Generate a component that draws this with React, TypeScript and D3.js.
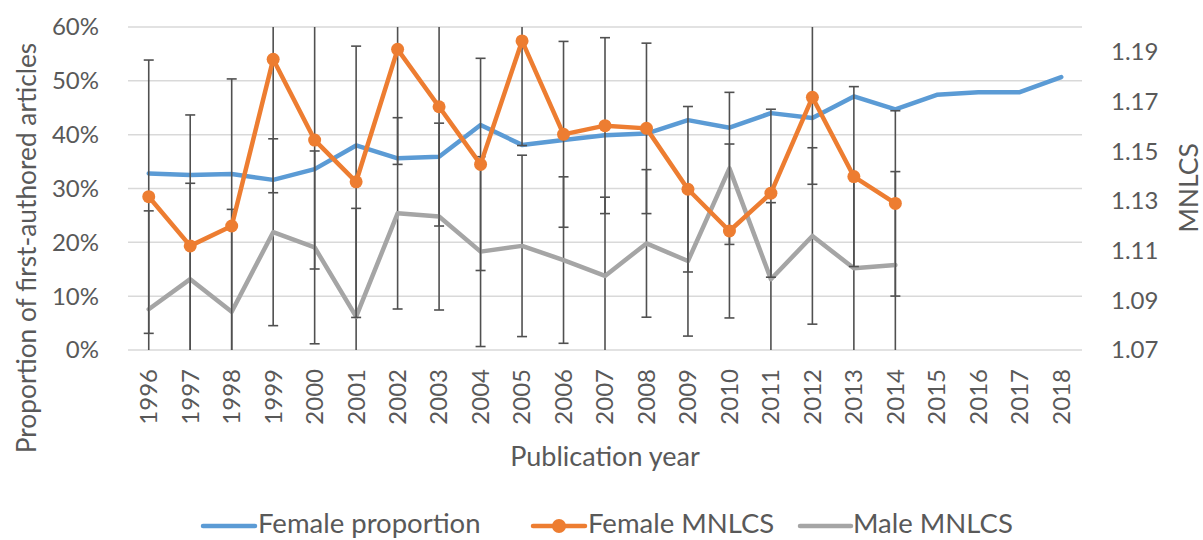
import React from 'react';
import * as d3 from 'd3';

const years = ['1996', '1997', '1998', '1999', '2000', '2001', '2002', '2003', '2004', '2005', '2006', '2007', '2008', '2009', '2010', '2011', '2012', '2013', '2014', '2015', '2016', '2017', '2018'];

// share of first-authored articles by women (left axis)
const femaleProportion = [0.328, 0.325, 0.327, 0.316, 0.336, 0.380, 0.356, 0.359, 0.418, 0.381, 0.390, 0.399, 0.402, 0.427, 0.413, 0.440, 0.431, 0.471, 0.447, 0.474, 0.479, 0.479, 0.507];

// MNLCS (right axis), 1996-2014 only
const femaleMnlcs = [1.1317, 1.1119, 1.1199, 1.187, 1.1545, 1.1377, 1.191, 1.1679, 1.1447, 1.1944, 1.1568, 1.1603, 1.1592, 1.1347, 1.1179, 1.1331, 1.1717, 1.1398, 1.129];
const femaleErr = [0.055, 0.0527, 0.0592, 0.0537, 0.0519, 0.0546, 0.0463, 0.048, 0.0427, 0.0421, 0.0374, 0.0354, 0.0343, 0.0333, 0.035, 0.0338, 0.035, 0.0362, 0.0373];
const maleMnlcs = [1.0864, 1.0985, 1.0854, 1.1174, 1.1113, 1.0834, 1.125, 1.1237, 1.1096, 1.1119, 1.1062, 1.0998, 1.1129, 1.1058, 1.1431, 1.0985, 1.1159, 1.1029, 1.1042];
const maleErr = [0.0396, 0.0386, 0.0412, 0.0376, 0.0388, 0.0436, 0.0385, 0.0376, 0.0382, 0.0365, 0.0335, 0.0317, 0.0297, 0.0302, 0.0306, 0.0308, 0.0355, 0.037, 0.0376];

const leftTicks = [0, 0.1, 0.2, 0.3, 0.4, 0.5, 0.6];
const rightTicks = [1.07, 1.09, 1.11, 1.13, 1.15, 1.17, 1.19];

const W = 1203;
const H = 540;
const plot = { left: 128, right: 1082, top: 27, bottom: 350 };

const font = 'Lato, "Open Sans", sans-serif';
const textColor = '#595959';
const blue = '#5B9BD5';
const orange = '#ED7D31';
const gray = '#A5A5A5';
const errColor = '#505050';

export default function App() {
    const x = d3.scaleBand().domain(years).range([plot.left, plot.right]);
    const cx = (y: string) => (x(y) as number) + x.bandwidth() / 2;
    const yL = d3.scaleLinear().domain([0, 0.6]).range([plot.bottom, plot.top]);
    const yR = d3.scaleLinear().domain([1.07, 1.2]).range([plot.bottom, plot.top]);

    const clampY = (v: number) => Math.max(plot.top, Math.min(plot.bottom, v));

    const blueLine = d3.line<number>().x((_, i) => cx(years[i])).y(d => yL(d))(femaleProportion) as string;
    const orangeLine = d3.line<number>().x((_, i) => cx(years[i])).y(d => yR(d))(femaleMnlcs) as string;
    const grayLine = d3.line<number>().x((_, i) => cx(years[i])).y(d => yR(d))(maleMnlcs) as string;

    // error bars with caps, clipped to the plot like Excel does
    const errorBars = (vals: number[], errs: number[], key: string) =>
        vals.map((v, i) => {
            const px = cx(years[i]);
            const top = yR(v + errs[i]);
            const bot = yR(v - errs[i]);
            const caps = [top, bot].filter(c => c >= plot.top - 0.5 && c <= plot.bottom + 0.5);
            return (
                <g key={key + i} stroke={errColor} strokeWidth={1.6}>
                    <line x1={px} x2={px} y1={clampY(top)} y2={clampY(bot)} />
                    {caps.map((c, j) => (
                        <line key={j} x1={px - 5} x2={px + 5} y1={c} y2={c} />
                    ))}
                </g>
            );
        });

    const legendY = 526;
    const legendText = 533;

    return (
        <svg width={W} height={H} style={{ position: 'absolute', left: 0, top: 0, background: '#fff' }} fontFamily={font}>
            {/* gridlines */}
            {leftTicks.map(t => (
                <line key={t} x1={plot.left} x2={plot.right} y1={yL(t)} y2={yL(t)} stroke="#D9D9D9" strokeWidth={1.5} />
            ))}

            {/* left axis labels */}
            {leftTicks.map(t => (
                <text key={t} x={99} y={yL(t)} dy="0.35em" textAnchor="end" fontSize={24} fill={textColor}>
                    {d3.format('.0%')(t)}
                </text>
            ))}

            {/* right axis labels */}
            {rightTicks.map(t => (
                <text key={t} x={1111} y={yR(t)} dy="0.35em" textAnchor="start" fontSize={24} fill={textColor}>
                    {t.toFixed(2)}
                </text>
            ))}

            {/* x labels */}
            {years.map(yr => (
                <text key={yr} transform={`translate(${cx(yr)},369) rotate(-90)`} dy="0.35em" textAnchor="end" fontSize={24} fill={textColor}>
                    {yr}
                </text>
            ))}

            {/* axis titles */}
            <text transform="translate(27,248) rotate(-90)" dy="0.35em" textAnchor="middle" fontSize={26.3} fill={textColor}>
                Proportion of first-authored articles
            </text>
            <text transform="translate(1189,188) rotate(-90)" dy="0.35em" textAnchor="middle" fontSize={26.5} fill={textColor}>
                MNLCS
            </text>
            <text x={605} y={457} dy="0.35em" textAnchor="middle" fontSize={27} fill={textColor}>
                Publication year
            </text>

            {/* series */}
            <path d={blueLine} fill="none" stroke={blue} strokeWidth={4.5} strokeLinejoin="round" strokeLinecap="round" />
            {errorBars(maleMnlcs, maleErr, 'm')}
            <path d={grayLine} fill="none" stroke={gray} strokeWidth={4.5} strokeLinejoin="round" strokeLinecap="round" />
            {errorBars(femaleMnlcs, femaleErr, 'f')}
            <path d={orangeLine} fill="none" stroke={orange} strokeWidth={4.5} strokeLinejoin="round" strokeLinecap="round" />
            {femaleMnlcs.map((v, i) => (
                <circle key={i} cx={cx(years[i])} cy={yR(v)} r={6.5} fill={orange} />
            ))}

            {/* legend */}
            <line x1={203} x2={255} y1={legendY} y2={legendY} stroke={blue} strokeWidth={4.5} strokeLinecap="round" />
            <text x={258} y={legendText} fontSize={27.5} fill={textColor}>Female proportion</text>
            <line x1={533} x2={585} y1={legendY} y2={legendY} stroke={orange} strokeWidth={4.5} strokeLinecap="round" />
            <circle cx={559} cy={legendY} r={7} fill={orange} />
            <text x={588} y={legendText} fontSize={27.5} fill={textColor}>Female MNLCS</text>
            <line x1={800} x2={851} y1={legendY} y2={legendY} stroke={gray} strokeWidth={4.5} strokeLinecap="round" />
            <text x={853} y={legendText} fontSize={27.5} fill={textColor}>Male MNLCS</text>
        </svg>
    );
}
